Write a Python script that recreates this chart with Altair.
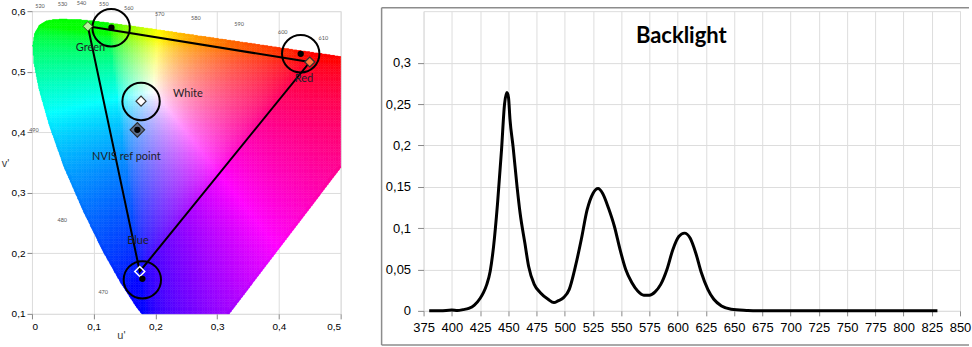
import numpy as np
import pandas as pd
import altair as alt

# ---------------- left panel data (CIE 1976 u'v') ----------------
locus_wl = [380, 420, 440, 450, 460, 465, 470, 475, 480, 485, 490, 495, 500, 505, 510, 515,
            520, 525, 530, 540, 550, 560, 570, 580, 590, 600, 610, 620, 640, 700]
locus_u = [0.2568, 0.2522, 0.2347, 0.2161, 0.1877, 0.1690, 0.1441, 0.1147, 0.0828, 0.0521,
           0.0282, 0.0119, 0.0035, 0.0014, 0.0046, 0.0123, 0.0231, 0.0360, 0.0501, 0.0792,
           0.1127, 0.1531, 0.2026, 0.2623, 0.3315, 0.4035, 0.4692, 0.5203, 0.5830, 0.6234]
locus_v = [0.0166, 0.0169, 0.0350, 0.0550, 0.0871, 0.1119, 0.1510, 0.2044, 0.2708, 0.3427,
           0.4117, 0.4698, 0.5131, 0.5432, 0.5638, 0.5770, 0.5837, 0.5861, 0.5868, 0.5856,
           0.5821, 0.5766, 0.5694, 0.5604, 0.5501, 0.5393, 0.5296, 0.5219, 0.5125, 0.5065]

wl_labels = ["520", "530", "540", "550", "560", "570", "580", "590", "600", "610", "490", "480", "470"]
wl_u = [0.0130, 0.0495, 0.0802, 0.1164, 0.1568, 0.2069, 0.2655, 0.3355, 0.4062, 0.4719, 0.0032, 0.0490, 0.1153]
wl_v = [0.6083, 0.6122, 0.6135, 0.6122, 0.6056, 0.5957, 0.5891, 0.5792, 0.5664, 0.5554, 0.4041, 0.2554, 0.1369]

tri_names = ["Green", "Red", "Blue", "Green"]
tri_u = [0.0905, 0.4500, 0.1746, 0.0905]
tri_v = [0.5750, 0.5160, 0.1700, 0.5750]

dot_u = [0.1287, 0.4353, 0.1788, 0.1707]
dot_v = [0.5726, 0.5296, 0.1579, 0.4040]

ring_u = [0.1282, 0.4353, 0.1767, 0.1788]
ring_v = [0.5726, 0.5296, 0.4508, 0.1562]

white_u = [0.1767]
white_v = [0.4513]
nvis_u = [0.1707]
nvis_v = [0.4040]

label_names = ["Green", "Red", "White", "NVIS ref point", "Blue"]
label_u = [0.0947, 0.4406, 0.2526, 0.1529, 0.1718]
label_v = [0.5392, 0.4883, 0.4635, 0.3588, 0.2200]

# ---------------- right panel data ----------------
spec_title = "Backlight"
spec_wl = [380, 390, 400, 405, 410, 415, 420, 425, 428, 431, 434, 437, 440.5, 444, 446.7,
           448.8, 450.2, 451.5, 454.3, 457.8, 460.5, 464.7, 468, 473, 478.4, 485.3, 490.5,
           494, 499, 504, 509.5, 514.6, 519.8, 525, 529.5, 533.6, 538.8, 544, 549, 554,
           559.5, 564.6, 570, 575, 580, 585, 590.5, 595.7, 601, 606, 611, 616, 621, 626.7,
           632, 638.8, 647.4, 661, 670, 830]
spec_val = [0.0, 0.0, 0.001, 0.0005, 0.0015, 0.003, 0.007, 0.015, 0.022, 0.032, 0.048, 0.078,
            0.13, 0.194, 0.25, 0.264, 0.258, 0.232, 0.198, 0.15, 0.118, 0.082, 0.054, 0.032,
            0.022, 0.014, 0.010, 0.012, 0.016, 0.026, 0.054, 0.086, 0.122, 0.142, 0.148, 0.142,
            0.124, 0.102, 0.074, 0.05, 0.034, 0.024, 0.019, 0.019, 0.023, 0.032, 0.05, 0.074,
            0.09, 0.094, 0.088, 0.07, 0.046, 0.026, 0.014, 0.006, 0.002, 0.0005, 0.0, 0.0]

# ---------------- background colour field of the diagram ----------------
PX, PY = np.array(locus_u), np.array(locus_v)


def in_locus(qu, qv):
    res = np.zeros(qu.shape, dtype=bool)
    n = len(PX)
    j = n - 1
    for i in range(n):
        xi, yi, xj, yj = PX[i], PY[i], PX[j], PY[j]
        cond = ((yi > qv) != (yj > qv)) & (qu < (xj - xi) * (qv - yi) / (yj - yi + 1e-12) + xi)
        res ^= cond
        j = i
    return res


def uv_colour(qu, qv):
    d = 6 * qu - 16 * qv + 12
    x = 9 * qu / d
    y = 4 * qv / d
    X = x / y
    Y = np.ones_like(x)
    Z = (1 - x - y) / y
    r = 3.2406 * X - 1.5372 * Y - 0.4986 * Z
    g = -0.9689 * X + 1.8758 * Y + 0.0415 * Z
    b = 0.0557 * X - 0.2040 * Y + 1.0570 * Z
    rgb = np.clip(np.stack([r, g, b], axis=1), 0, None)
    rgb = rgb / rgb.max(axis=1, keepdims=True)
    rgb = np.power(rgb, 1.25)
    rgb = np.where(rgb <= 0.0031308, 12.92 * rgb, 1.055 * np.power(rgb, 1 / 2.4) - 0.055)
    rgb = np.clip(np.round(rgb * 255), 0, 255).astype(int)
    return ["#%02x%02x%02x" % tuple(c) for c in rgb]


STEP = 0.004
SUB = 4
cu = np.arange(0.0, 0.5 - 1e-9, STEP)
cv = np.arange(0.1, 0.6 - 1e-9, STEP)
UU, VV = np.meshgrid(cu, cv)
u0 = UU.ravel()
v0 = VV.ravel()
corners = [in_locus(u0 + du, v0 + dv) for du in (0, STEP) for dv in (0, STEP)]
allin = corners[0] & corners[1] & corners[2] & corners[3]
anyin = corners[0] | corners[1] | corners[2] | corners[3] | in_locus(u0 + STEP / 2, v0 + STEP / 2)
edge = anyin & ~allin

fu, fv = u0[allin], v0[allin]
parts_u = [fu]
parts_v = [fv]
parts_s = [np.full(fu.shape, STEP)]
s = STEP / SUB
eu, ev = u0[edge], v0[edge]
for a in range(SUB):
    for bb in range(SUB):
        su = eu + a * s
        sv = ev + bb * s
        keep = in_locus(su + s / 2, sv + s / 2)
        parts_u.append(su[keep])
        parts_v.append(sv[keep])
        parts_s.append(np.full(su[keep].shape, s))
cell_u = np.concatenate(parts_u)
cell_v = np.concatenate(parts_v)
cell_s = np.concatenate(parts_s)

cells = pd.DataFrame({
    "u": np.round(cell_u, 4),
    "v": np.round(cell_v, 4),
    "u2": np.round(cell_u + cell_s, 4),
    "v2": np.round(cell_v + cell_s, 4),
    "c": uv_colour(cell_u + cell_s / 2, cell_v + cell_s / 2),
})

FONT = "Lato"
comma = "datum.value == 0 ? '0' : replace(format(datum.value, '.2~f'), '.', ',')"

xs = alt.Scale(domain=[0, 0.5], nice=False, zero=False)
ys = alt.Scale(domain=[0.1, 0.6], nice=False, zero=False)

left_bg = alt.Chart(cells).mark_rect(strokeWidth=0.5).encode(
    x=alt.X("u:Q", scale=xs, axis=alt.Axis(
        values=[0, 0.1, 0.2, 0.3, 0.4, 0.5], labelExpr=comma, title="u'",
        titleX=89, titleY=22, titleAlign="center", titleBaseline="middle",
        titleFontWeight="normal", titleFontSize=11, titleColor="#404040",
        tickSize=5, labelPadding=3, domain=False, labelFontSize=10)),
    x2="u2:Q",
    y=alt.Y("v:Q", scale=ys, axis=alt.Axis(
        values=[0.1, 0.2, 0.3, 0.4, 0.5, 0.6], labelExpr=comma, title="v'",
        titleAngle=0, titleX=-27, titleY=152, titleAlign="center", titleBaseline="middle",
        titleFontWeight="normal", titleFontSize=11, titleColor="#404040",
        tickSize=5, labelPadding=2, domain=False, labelFontSize=10)),
    y2="v2:Q",
    color=alt.Color("c:N", scale=None),
    stroke=alt.Stroke("c:N", scale=None),
)

tri_df = pd.DataFrame({"name": tri_names, "u": tri_u, "v": tri_v, "i": list(range(len(tri_u)))})
tri = alt.Chart(tri_df).mark_line(color="black", strokeWidth=2).encode(
    x="u:Q", y="v:Q", order="i:Q")

ring_df = pd.DataFrame({"u": ring_u, "v": ring_v})
rings = alt.Chart(ring_df).mark_point(shape="circle", size=1400, filled=False,
                                      stroke="black", strokeWidth=2, opacity=1).encode(x="u:Q", y="v:Q")

vert_df = pd.DataFrame({"name": tri_names[:3], "u": tri_u[:3], "v": tri_v[:3]})
green_d = alt.Chart(vert_df).transform_filter("datum.name == 'Green'").mark_point(
    shape="diamond", size=90, filled=True, fill="#b5f59a", stroke="#3a5a2a", strokeWidth=1, opacity=1
).encode(x="u:Q", y="v:Q")
red_d = alt.Chart(vert_df).transform_filter("datum.name == 'Red'").mark_point(
    shape="diamond", size=100, filled=True, fill="#ff7a3c", stroke="#333333", strokeWidth=1.2, opacity=1
).encode(x="u:Q", y="v:Q")
blue_d = alt.Chart(vert_df).transform_filter("datum.name == 'Blue'").mark_point(
    shape="diamond", size=100, filled=False, stroke="white", strokeWidth=1.5, opacity=1
).encode(x="u:Q", y="v:Q")

white_df = pd.DataFrame({"u": white_u, "v": white_v})
white_d = alt.Chart(white_df).mark_point(
    shape="diamond", size=100, filled=True, fill="white", stroke="#333333", strokeWidth=1.2, opacity=1
).encode(x="u:Q", y="v:Q")

nvis_df = pd.DataFrame({"u": nvis_u, "v": nvis_v})
nvis_d = alt.Chart(nvis_df).mark_point(
    shape="diamond", size=210, filled=True, fill="#5d6f8c", stroke="#2a2a2a", strokeWidth=1.2, opacity=1
).encode(x="u:Q", y="v:Q")

dot_df = pd.DataFrame({"u": dot_u, "v": dot_v})
dots = alt.Chart(dot_df).mark_point(shape="circle", size=40, filled=True, color="black",
                                    opacity=1).encode(x="u:Q", y="v:Q")

lab_df = pd.DataFrame({"t": label_names, "u": label_u, "v": label_v})
labels = alt.Chart(lab_df).mark_text(font=FONT, fontSize=11, color="#1e1e28").encode(
    x="u:Q", y="v:Q", text="t:N")

wl_df = pd.DataFrame({"t": wl_labels, "u": wl_u, "v": wl_v})
wl_text = alt.Chart(wl_df).mark_text(font=FONT, fontSize=5.5, color="#555555").encode(
    x="u:Q", y="v:Q", text="t:N")

left = alt.layer(left_bg, tri, rings, green_d, red_d, blue_d, white_d, nvis_d, dots,
                 labels, wl_text).properties(width=309, height=303)

# ---------------- right panel ----------------
YTOP = 0.3624
spec_df = pd.DataFrame({"w": spec_wl, "val": spec_val})
line = alt.Chart(spec_df).mark_line(color="black", strokeWidth=3, interpolate="monotone").encode(
    x=alt.X("w:Q", scale=alt.Scale(domain=[375, 850], nice=False, zero=False),
            axis=alt.Axis(values=list(range(375, 851, 25)), title=None, tickSize=5,
                          labelPadding=6, domain=False, labelFontSize=13, labelFlush=False)),
    y=alt.Y("val:Q", scale=alt.Scale(domain=[0, YTOP], nice=False),
            axis=alt.Axis(values=[0, 0.05, 0.1, 0.15, 0.2, 0.25, 0.3], labelExpr=comma,
                          title=None, tickSize=6, labelPadding=7, domain=False, labelFontSize=13)),
)

title_df = pd.DataFrame({"t": [spec_title]})
title = alt.Chart(title_df).mark_text(font=FONT, fontSize=22, fontWeight="bold", color="black").encode(
    x=alt.value(258), y=alt.value(25), text="t:N")

frame_df = pd.DataFrame({"k": [0]})
fr_top = alt.Chart(frame_df).mark_rule(color="#8c8c8c", strokeWidth=1.5).encode(
    x=alt.value(-42), x2=alt.value(546), y=alt.value(-3.4))
fr_bot = alt.Chart(frame_df).mark_rule(color="#8c8c8c", strokeWidth=1.5).encode(
    x=alt.value(-42), x2=alt.value(546), y=alt.value(334.3))
fr_left = alt.Chart(frame_df).mark_rule(color="#8c8c8c", strokeWidth=1.5).encode(
    x=alt.value(-42), y=alt.value(-3.4), y2=alt.value(334.3))

right = alt.layer(line, title, fr_top, fr_bot, fr_left).properties(width=537, height=300)

chart = alt.hconcat(left, right, spacing=83, bounds="flush").properties(
    padding={"left": 0, "top": 0, "right": 0, "bottom": 0}
).configure_view(stroke=None).configure_axis(
    gridColor="#b4b4b4", gridWidth=1, tickColor="#b4b4b4", tickWidth=1,
    labelFont=FONT, labelColor="#404040", titleFont=FONT,
).configure(background="white")

chart.save("out.html", embed_options={"renderer": "svg", "actions": False})
